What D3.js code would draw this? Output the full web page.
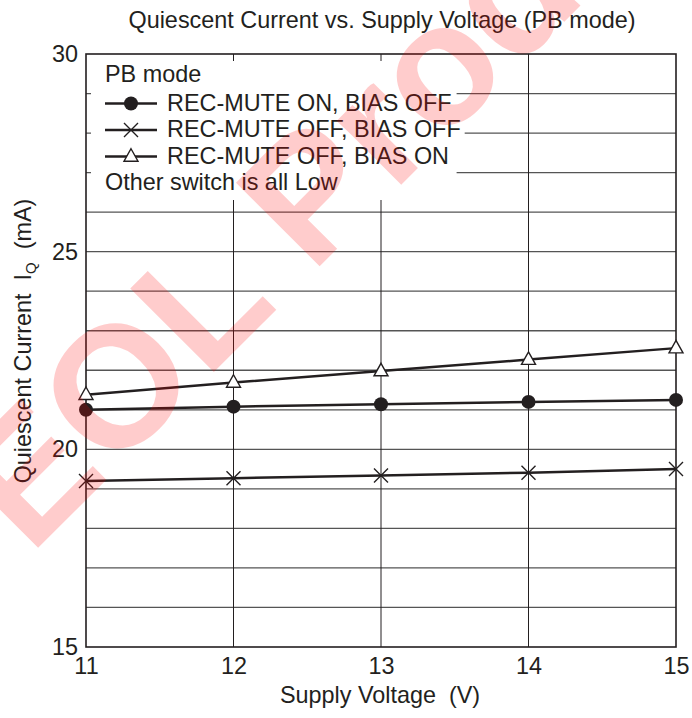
<!DOCTYPE html>
<html>
<head>
<meta charset="utf-8">
<script src="https://cdn.jsdelivr.net/npm/d3@7"></script>
<style>
  html, body { margin: 0; padding: 0; background: #fff; }
  svg { display: block; font-family: "Liberation Sans", Arial, sans-serif; }
  text { white-space: pre; }
</style>
</head>
<body>
<svg id="chart" width="692" height="718"></svg>
<script>
// ---- data ----
const voltages = [11, 12, 13, 14, 15];
const recMuteOnBiasOff = [21.0, 21.08, 21.14, 21.2, 21.25];
const recMuteOffBiasOff = [19.2, 19.27, 19.34, 19.41, 19.5];
const recMuteOffBiasOn = [21.38, 21.69, 21.98, 22.27, 22.56];
const seriesNames = ["REC-MUTE ON, BIAS OFF", "REC-MUTE OFF, BIAS OFF", "REC-MUTE OFF, BIAS ON"];
const markerTypes = ["circle", "cross", "triangle"];
const xTickLabels = [11, 12, 13, 14, 15];
const yTickLabels = [15, 20, 25, 30];
const yGridValues = [16, 17, 18, 19, 20, 21, 22, 23, 24, 25, 26, 27, 28, 29];
const xGridValues = [12, 13, 14];
const titleText = "Quiescent Current vs. Supply Voltage (PB mode)";
const xTitle = "Supply Voltage  (V)";
const legendTitle = "PB mode";
const legendNote = "Other switch is all Low";
const watermarkText = "EOL Product";

const svg = d3.select("#chart");
const L = 86, R = 676, T = 54, B = 647;
const x = d3.scaleLinear().domain([11, 15]).range([L, R]);
const y = d3.scaleLinear().domain([15, 30]).range([B, T]);
const FS = 23.4;
const INK = "#231f20";

// title
svg.append("text").attr("x", 382).attr("y", 28).attr("text-anchor", "middle")
  .attr("font-size", FS).attr("fill", INK).text(titleText);

// grid
const g = svg.append("g");
g.selectAll("line.hg").data(yGridValues).join("line")
  .attr("x1", L).attr("x2", R).attr("y1", d => y(d)).attr("y2", d => y(d))
  .attr("stroke", "#555").attr("stroke-width", 1.3);
g.selectAll("line.vg").data(xGridValues).join("line")
  .attr("y1", T).attr("y2", B).attr("x1", d => x(d)).attr("x2", d => x(d))
  .attr("stroke", INK).attr("stroke-width", 1);

// legend background box
const legendRows = [110.5, 137, 163.5];
const measure = svg.append("text").attr("font-size", FS).attr("visibility", "hidden");
function tw(s) { measure.text(s); return measure.node().getComputedTextLength(); }
const txtX = 167;
const w1 = tw(seriesNames[0]);
const w2 = tw(seriesNames[1]);
measure.remove();
svg.append("rect").attr("x", 91).attr("y", 61).attr("width", txtX + w1 + 5 - 91).attr("height", 139).attr("fill", "#fff");
svg.append("rect").attr("x", 91).attr("y", 115).attr("width", txtX + w2 + 4 - 91).attr("height", 24).attr("fill", "#fff");

// frame
svg.append("rect").attr("x", L).attr("y", T).attr("width", R - L).attr("height", B - T)
  .attr("fill", "none").attr("stroke", INK).attr("stroke-width", 1.6);

// axes
const xAxis = d3.axisBottom(x).tickValues(xTickLabels).tickSize(0).tickPadding(8).tickFormat(d3.format("d"));
const yAxis = d3.axisLeft(y).tickValues(yTickLabels).tickSize(0).tickPadding(8).tickFormat(d3.format("d"));
const gx = svg.append("g").attr("transform", `translate(0,${B})`).call(xAxis);
const gy = svg.append("g").attr("transform", `translate(${L},0)`).call(yAxis);
[gx, gy].forEach(a => {
  a.select(".domain").remove();
  a.selectAll("text").attr("font-size", FS).attr("font-family", "Liberation Sans, Arial, sans-serif").attr("fill", INK);
});
gx.selectAll("text").attr("dy", "0.82em");

// axis titles
svg.append("text").attr("x", 380).attr("y", 703).attr("text-anchor", "middle")
  .attr("font-size", FS).attr("fill", INK).text(xTitle);
const yl = svg.append("text").attr("transform", "translate(31,341) rotate(-90)")
  .attr("text-anchor", "middle").attr("font-size", FS).attr("fill", INK);
yl.append("tspan").text("Quiescent Current  I");
yl.append("tspan").attr("font-size", 15).attr("dy", 5).text("Q");
yl.append("tspan").attr("dy", -5).text("  (mA)");

// markers
function drawMarker(sel, type, cx, cy) {
  if (type === "circle") {
    sel.append("circle").attr("cx", cx).attr("cy", cy).attr("r", 7).attr("fill", INK);
  } else if (type === "cross") {
    const s = 7;
    sel.append("path").attr("d", `M${cx - s},${cy - s}L${cx + s},${cy + s}M${cx - s},${cy + s}L${cx + s},${cy - s}`)
      .attr("stroke", INK).attr("stroke-width", 1.4).attr("fill", "none");
  } else {
    const h = 12.5, w = 14;
    sel.append("path").attr("d", `M${cx},${cy - h * 0.62}L${cx + w / 2},${cy + h * 0.38}L${cx - w / 2},${cy + h * 0.38}Z`)
      .attr("stroke", INK).attr("stroke-width", 1.4).attr("fill", "#fff");
  }
}

// series
const allSeries = [recMuteOnBiasOff, recMuteOffBiasOff, recMuteOffBiasOn];
const line = d3.line().x(d => x(d[0])).y(d => y(d[1]));
allSeries.forEach((vals, i) => {
  const pts = voltages.map((v, j) => [v, vals[j]]);
  svg.append("path").attr("d", line(pts)).attr("fill", "none")
    .attr("stroke", INK).attr("stroke-width", 2.5);
  const mg = svg.append("g");
  pts.forEach(p => drawMarker(mg, markerTypes[i], x(p[0]), y(p[1])));
});

// legend
svg.append("text").attr("x", 105).attr("y", 82).attr("font-size", FS).attr("fill", INK).text(legendTitle);
seriesNames.forEach((name, i) => {
  const by = legendRows[i];
  const cy = by - 7;
  svg.append("line").attr("x1", 105).attr("x2", 157).attr("y1", cy).attr("y2", cy)
    .attr("stroke", INK).attr("stroke-width", 2.5);
  drawMarker(svg, markerTypes[i], 131, cy);
  svg.append("text").attr("x", txtX).attr("y", by).attr("font-size", FS).attr("fill", INK).text(name);
});
svg.append("text").attr("x", 105).attr("y", 190).attr("font-size", FS).attr("fill", INK).text(legendNote);

// watermark
svg.append("text").attr("transform", "translate(30,556) rotate(-45)")
  .attr("font-size", 172).attr("font-weight", "bold").attr("fill", "#ff0000").attr("fill-opacity", 0.2)
  .attr("font-family", "Liberation Sans, Arial, sans-serif").text(watermarkText);
</script>
</body>
</html>
